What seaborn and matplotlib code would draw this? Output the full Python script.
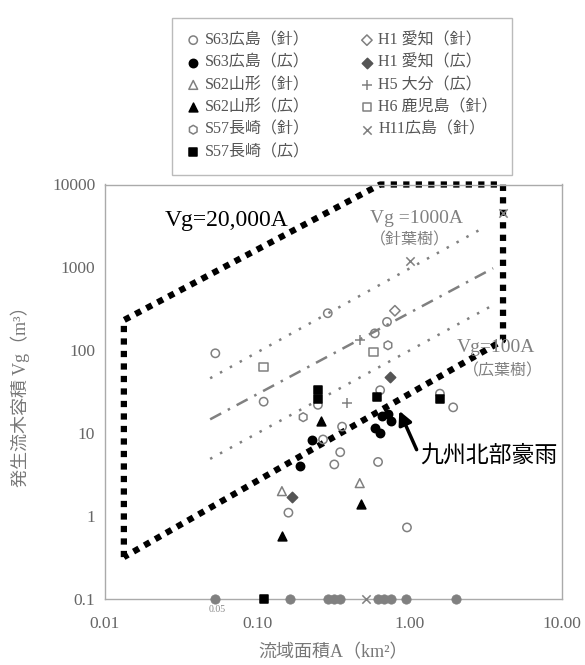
import matplotlib
matplotlib.use("Agg")
import matplotlib.pyplot as plt
import seaborn as sns

sns.set_style("white")
plt.rcParams['font.family'] = ['Liberation Serif', 'Noto Sans CJK JP', 'DejaVu Sans']

s63_hiroshima_shin_A = [0.053, 0.11, 0.29, 0.25, 0.36, 0.27, 0.35, 0.32, 0.16, 0.96, 0.62, 0.59, 0.71, 0.64, 1.58, 1.93]
s63_hiroshima_shin_V = [92, 24, 280, 22, 12, 8.4, 5.9, 4.2, 1.1, 0.73, 4.5, 160, 220, 33, 30, 20.5]
s63_hiroshima_ko_A = [0.23, 0.19, 0.72, 0.75, 0.66, 0.59, 0.64]
s63_hiroshima_ko_V = [8.2, 4.0, 17, 14, 16, 11.5, 10]
s62_yamagata_shin_A = [0.145, 0.47]
s62_yamagata_shin_V = [2.0, 2.5]
s62_yamagata_ko_A = [0.145, 0.48, 0.26]
s62_yamagata_ko_V = [0.58, 1.4, 14]
s57_nagasaki_shin_A = [0.20, 0.72]
s57_nagasaki_shin_V = [15.6, 115]
s57_nagasaki_ko_A = [0.25, 0.25, 0.61, 1.58, 0.11]
s57_nagasaki_ko_V = [33, 26, 27, 26, 0.1]
h1_aichi_shin_A = [0.80]
h1_aichi_shin_V = [300]
h1_aichi_ko_A = [0.17, 0.74]
h1_aichi_ko_V = [1.7, 47]
h5_oita_ko_A = [0.39, 0.47]
h5_oita_ko_V = [23, 132]
h6_kagoshima_shin_A = [0.11, 0.58]
h6_kagoshima_shin_V = [63, 95]
h11_hiroshima_shin_A = [4.1, 1.0, 0.52]
h11_hiroshima_shin_V = [4500, 1200, 0.1]

# basins with (almost) no driftwood, drawn on the 0.1 line
zero_A = [0.053, 0.165, 0.29, 0.32, 0.35, 0.62, 0.68, 0.75, 0.94, 2.0]
zero_V = [0.1] * len(zero_A)

# reference lines (end points)
line_1000_A = [0.049, 3.03]
line_1000_V = [46, 2985]
line_300_A = [0.049, 3.53]
line_300_V = [14.7, 977]
line_100_A = [0.049, 3.53]
line_100_V = [4.9, 351]

# thick dotted envelope
bound_A = [0.0133, 0.0133, 0.64, 4.1, 4.1, 0.0133]
bound_V = [0.32, 231, 10000, 10000, 132, 0.32]

x_ticks = [0.01, 0.1, 1, 10]
x_ticklabels = ['0.01', '0.10', '1.00', '10.00']
y_ticks = [0.1, 1, 10, 100, 1000, 10000]
y_ticklabels = ['0.1', '1', '10', '100', '1000', '10000']

gray = '#808080'

fig = plt.figure(figsize=(5.85, 6.65), dpi=100)
ax = fig.add_axes([105/585, 1-599/665, 457/585, 414.5/665])
ax.set_xscale('log')
ax.set_yscale('log')

# gray regression lines
sns.lineplot(x=line_1000_A, y=line_1000_V, ax=ax, color=gray, lw=1.8,
             linestyle=(0, (1, 3.5)), sort=False, estimator=None)
sns.lineplot(x=line_300_A, y=line_300_V, ax=ax, color=gray, lw=1.8,
             linestyle=(0, (5, 3, 1, 3)), sort=False, estimator=None)
sns.lineplot(x=line_100_A, y=line_100_V, ax=ax, color=gray, lw=1.8,
             linestyle=(0, (1, 3.5)), sort=False, estimator=None)

# envelope
sns.lineplot(x=bound_A, y=bound_V, ax=ax, color='black', lw=4.5,
             linestyle=(0, (1, 1)), sort=False, estimator=None, clip_on=False)

# series: (label, A, V, marker, face, edge, size)
series = [
    ('S63広島（針）', s63_hiroshima_shin_A, s63_hiroshima_shin_V, 'o', 'none', gray, 36),
    ('S63広島（広）', s63_hiroshima_ko_A, s63_hiroshima_ko_V, 'o', 'black', 'black', 36),
    ('S62山形（針）', s62_yamagata_shin_A, s62_yamagata_shin_V, '^', 'none', gray, 40),
    ('S62山形（広）', s62_yamagata_ko_A, s62_yamagata_ko_V, '^', 'black', 'black', 40),
    ('S57長崎（針）', s57_nagasaki_shin_A, s57_nagasaki_shin_V, 'h', 'none', gray, 40),
    ('S57長崎（広）', s57_nagasaki_ko_A, s57_nagasaki_ko_V, 's', 'black', 'black', 30),
    ('H1 愛知（針）', h1_aichi_shin_A, h1_aichi_shin_V, 'D', 'none', gray, 28),
    ('H1 愛知（広）', h1_aichi_ko_A, h1_aichi_ko_V, 'D', '#555555', '#555555', 28),
    ('H5 大分（広）', h5_oita_ko_A, h5_oita_ko_V, '+', gray, gray, 50),
    ('H6 鹿児島（針）', h6_kagoshima_shin_A, h6_kagoshima_shin_V, 's', 'none', gray, 36),
    ('H11広島（針）', h11_hiroshima_shin_A, h11_hiroshima_shin_V, 'x', gray, gray, 36),
]

sns.scatterplot(x=zero_A, y=zero_V, ax=ax, marker='o', s=45, color=gray,
                edgecolor=gray, clip_on=False, zorder=4)

for label, A, V, mk, fc, ec, sz in series:
    sns.scatterplot(x=A, y=V, ax=ax, marker=mk, s=sz, color=ec, facecolor=fc,
                    edgecolor=ec, linewidth=1.1, label=label, clip_on=False, zorder=5)

handles, labels = ax.get_legend_handles_labels()
if ax.get_legend() is not None:
    ax.get_legend().remove()

ax.set_xlim(0.01, 10)
ax.set_ylim(0.1, 10000)
ax.set_xticks(x_ticks)
ax.set_xticklabels(x_ticklabels)
ax.set_yticks(y_ticks)
ax.set_yticklabels(y_ticklabels)
ax.minorticks_off()
ax.tick_params(axis='x', length=0, pad=12, labelsize=12.5, colors='#666666')
ax.tick_params(axis='y', length=0, pad=7, labelsize=12.5, colors='#666666')
for sp in ax.spines.values():
    sp.set_color('#aaaaaa')
    sp.set_linewidth(1)

ax.set_ylabel('発生流木容積 Vg（m³）', fontsize=13, color='#777777')
ax.set_xlabel('流域面積A（km²）', fontsize=13, color='#777777')
ax.yaxis.set_label_coords(-0.164, 0.5)
ax.xaxis.set_label_coords(0.5, -0.108)

ax.text(0.0248, 3720, 'Vg=20,000A', fontsize=17, color='black', ha='left', va='center')
ax.text(0.55, 3940, 'Vg =1000A', fontsize=14, color=gray, ha='left', va='center')
ax.text(0.55, 2140, '（針葉樹）', fontsize=11.5, color=gray, ha='left', va='center')
ax.text(2.05, 109, 'Vg=100A', fontsize=14, color=gray, ha='left', va='center')
ax.text(2.24, 56, '（広葉樹）', fontsize=11.5, color=gray, ha='left', va='center')
ax.text(0.0545, 0.0755, '0.05', fontsize=7, color='#888888', ha='center', va='center')

ax.annotate('', xy=(0.84, 20), xytext=(1.13, 5.9),
            arrowprops=dict(arrowstyle='-|>', lw=2.5, color='black', mutation_scale=20))
ax.text(1.17, 5.4, '九州北部豪雨', fontsize=16.5, color='black', ha='left', va='center',
        family=['Noto Sans CJK JP'])

fig.legend(handles, labels, ncol=2, loc='upper center', bbox_to_anchor=(0.585, 0.985),
           frameon=True, fancybox=False, edgecolor='#aaaaaa', labelcolor='#555555',
           prop={'family': ['Liberation Serif', 'Noto Sans CJK JP'], 'size': 11.5},
           handlelength=0.8, handletextpad=0.3, columnspacing=3.2, labelspacing=0.4,
           borderpad=0.9)

fig.savefig('out.png', dpi=100, facecolor='white')
